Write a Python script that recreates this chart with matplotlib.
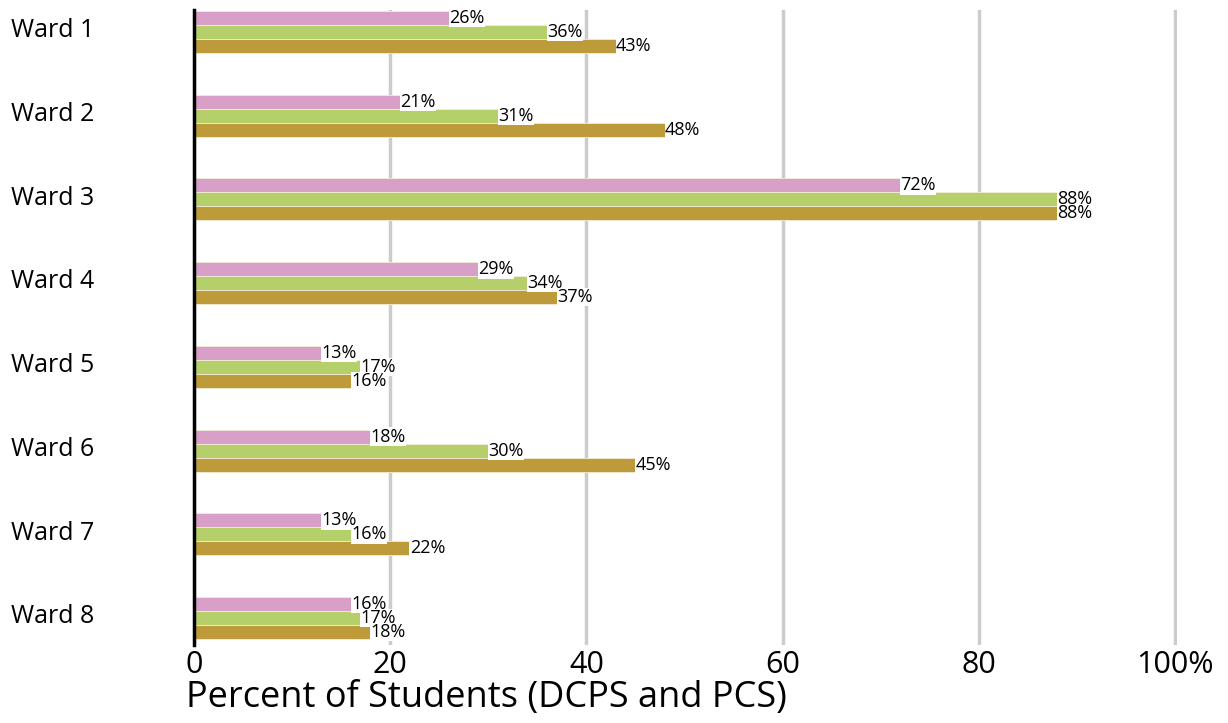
import numpy as np
import matplotlib
matplotlib.use("Agg")
import matplotlib.pyplot as plt
import matplotlib.transforms as mtransforms

plt.rcParams['font.family'] = ['Open Sans', 'DejaVu Sans']

wards = ['Ward 1', 'Ward 2', 'Ward 3', 'Ward 4', 'Ward 5', 'Ward 6', 'Ward 7', 'Ward 8']
pink_vals = [26, 21, 72, 29, 13, 18, 13, 16]
green_vals = [36, 31, 88, 34, 17, 30, 16, 17]
gold_vals = [43, 48, 88, 37, 16, 45, 22, 18]
xticks = [0, 20, 40, 60, 80, 100]
xtick_labels = ['0', '20', '40', '60', '80', '100%']

colors = ['#d8a0c9', '#b5cf6b', '#bd9b3a']
series = [pink_vals, green_vals, gold_vals]

fig = plt.figure(figsize=(12.28, 7.23), dpi=100)
ax = fig.add_axes([0.158, 0.108, 0.8005, 0.878])

y = np.arange(len(wards))
h = 0.167
for i, (vals, c) in enumerate(zip(series, colors)):
    pos = y + (i - 1) * h
    ax.barh(pos, vals, height=h, color=c, edgecolor='#f3ecd8', linewidth=0.6, zorder=3)
    for p, v in zip(pos, vals):
        ax.text(v, p, f'{v}%', ha='left', va='center', fontsize=13, zorder=4,
                bbox=dict(facecolor='white', edgecolor='none', pad=0.3))

ax.set_ylim(7.32, -0.26)
ax.set_xlim(0, 100.2)
ax.set_yticks(y)
ax.set_yticklabels(wards, fontsize=18)
ax.set_xticks(xticks)
ax.set_xticklabels(xtick_labels, fontsize=22)
ax.tick_params(axis='both', length=0)
ax.tick_params(axis='y', pad=132)
shift = mtransforms.ScaledTranslation(0, 3 / 72, fig.dpi_scale_trans)
for lbl in ax.get_yticklabels():
    lbl.set_horizontalalignment('left')
    lbl.set_transform(lbl.get_transform() + shift)
ax.tick_params(axis='x', pad=4)
ax.set_xlabel('Percent of Students (DCPS and PCS)', fontsize=26, loc='left', labelpad=0)
ax.xaxis.label.set_position((-0.008, 0))

ax.grid(axis='x', color='#cccccc', linewidth=2.5, zorder=0)
for s in ['top', 'right', 'bottom']:
    ax.spines[s].set_visible(False)
ax.spines['left'].set_linewidth(2.5)
ax.spines['left'].set_color('black')
ax.spines['left'].set_zorder(5)

fig.savefig('out.png', dpi=100)
